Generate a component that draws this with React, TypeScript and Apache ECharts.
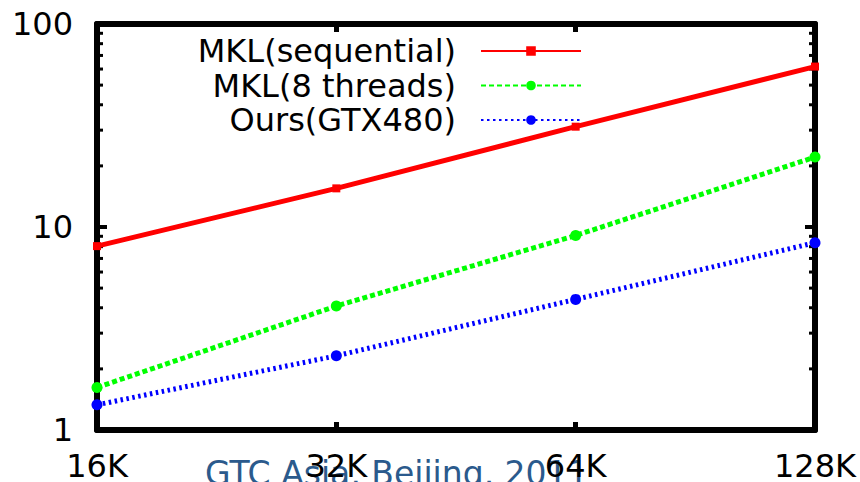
import React, { useEffect, useRef } from "react";
import * as echarts from "echarts";

// Problem sizes on the x axis
const sizes = ["16K", "32K", "64K", "128K"];

// Run times for each implementation (log scale)
const mklSequential = [8.05, 15.5, 31.2, 61.7];
const mklThreads = [1.62, 4.08, 9.08, 22.1];
const oursGtx480 = [1.33, 2.32, 4.4, 8.37];

// Minor tick positions on the log y axis
const minorTickValues = [2, 3, 4, 5, 6, 7, 8, 9, 20, 30, 40, 50, 60, 70, 80, 90];

const footerText = "GTC Asia, Beijing, 2011";

const FONT = "DejaVu Sans, Verdana, sans-serif";

export default function App() {
  const ref = useRef<HTMLDivElement>(null);

  useEffect(() => {
    if (!ref.current) return;
    const chart = echarts.init(ref.current, undefined, { renderer: "svg" });

    const frameLine = { show: true, lineStyle: { color: "#000", width: 6 } };
    const xTick = { show: true, inside: true, length: 8, lineStyle: { color: "#000", width: 5 } };
    const yTick = { show: true, inside: true, length: 10, lineStyle: { color: "#000", width: 4 } };

    chart.setOption({
      animation: false,
      backgroundColor: "#fff",
      textStyle: { fontFamily: FONT },
      grid: { left: 97, right: 45, top: 24, bottom: 51, containLabel: false },
      legend: {
        orient: "vertical",
        align: "right",
        right: 278,
        top: 35,
        padding: 0,
        itemWidth: 100,
        itemHeight: 12,
        itemGap: 2.5,
        textStyle: {
          fontFamily: FONT,
          fontSize: 32,
          color: "#000",
          lineHeight: 32,
          padding: [0, 20, 0, 0],
        },
        data: ["MKL(sequential)", "MKL(8 threads)", "Ours(GTX480)"],
      },
      xAxis: [
        {
          type: "category",
          data: sizes,
          boundaryGap: false,
          position: "bottom",
          axisLine: frameLine,
          axisTick: xTick,
          axisLabel: { color: "#000", fontSize: 32, fontFamily: FONT, margin: 20 },
          splitLine: { show: false },
        },
        {
          type: "category",
          data: sizes,
          boundaryGap: false,
          position: "top",
          axisLine: frameLine,
          axisTick: xTick,
          axisLabel: { show: false },
          splitLine: { show: false },
        },
      ],
      yAxis: [
        {
          type: "log",
          logBase: 10,
          min: 1,
          max: 100,
          position: "left",
          axisLine: frameLine,
          axisTick: yTick,
          axisLabel: { color: "#000", fontSize: 32, fontFamily: FONT, margin: 24 },
          splitLine: { show: false },
        },
        {
          type: "log",
          logBase: 10,
          min: 1,
          max: 100,
          position: "right",
          axisLine: frameLine,
          axisTick: yTick,
          axisLabel: { show: false },
          splitLine: { show: false },
        },
      ],
      graphic: [
        {
          type: "text",
          left: 205,
          top: 457,
          z: 0,
          silent: true,
          style: {
            text: footerText,
            fill: "#2b5a8c",
            font: `33px ${FONT}`,
          },
        },
      ],
      series: [
        {
          name: "minorTicks",
          type: "custom",
          xAxisIndex: 0,
          yAxisIndex: 0,
          silent: true,
          z: 1,
          data: minorTickValues.map((v) => [0, v]),
          renderItem: (params: any, api: any) => {
            const cs = params.coordSys;
            const y = api.coord([0, api.value(1)])[1];
            const len = 6;
            const style = { stroke: "#000", lineWidth: 3 };
            return {
              type: "group",
              children: [
                { type: "line", shape: { x1: cs.x, y1: y, x2: cs.x + len, y2: y }, style },
                {
                  type: "line",
                  shape: { x1: cs.x + cs.width - len, y1: y, x2: cs.x + cs.width, y2: y },
                  style,
                },
              ],
            };
          },
        },
        {
          name: "MKL(sequential)",
          type: "line",
          data: mklSequential,
          symbol: "rect",
          symbolSize: 8,
          z: 5,
          itemStyle: { color: "#ff0000" },
          lineStyle: { color: "#ff0000", width: 5, type: "solid" },
        },
        {
          name: "MKL(8 threads)",
          type: "line",
          data: mklThreads,
          symbol: "circle",
          symbolSize: 11,
          z: 4,
          itemStyle: { color: "#00ff00" },
          lineStyle: { color: "#00ff00", width: 5, type: [5, 3] },
        },
        {
          name: "Ours(GTX480)",
          type: "line",
          data: oursGtx480,
          symbol: "circle",
          symbolSize: 11,
          z: 3,
          itemStyle: { color: "#0000ff" },
          lineStyle: { color: "#0000ff", width: 5, type: [2.5, 3.5] },
        },
      ],
    });

    return () => chart.dispose();
  }, []);

  return <div ref={ref} style={{ width: 860, height: 482, position: "fixed", left: 0, top: 0 }} />;
}
